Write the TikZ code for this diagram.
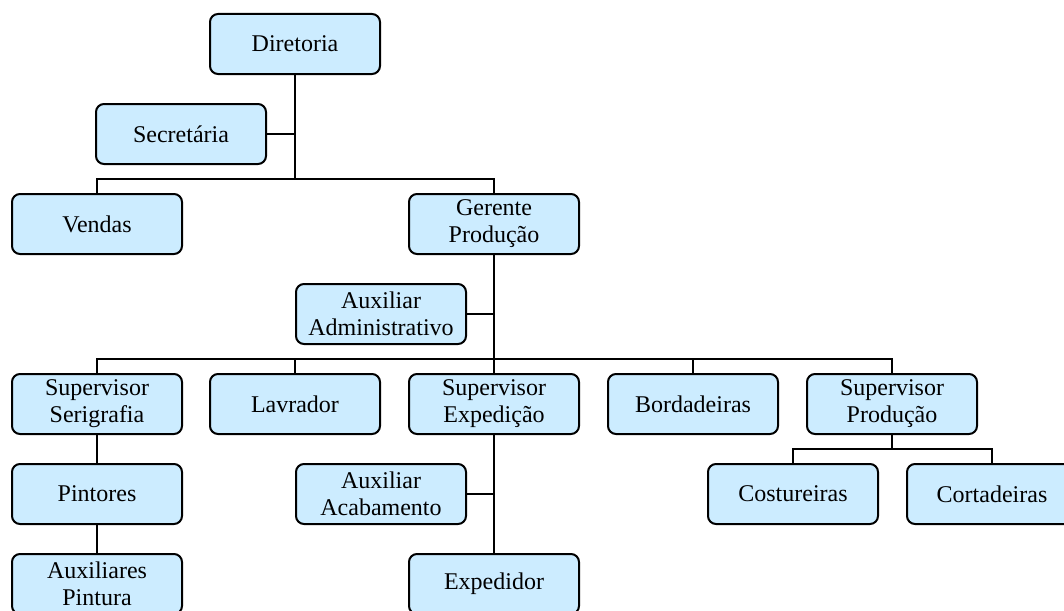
\documentclass[tikz,border=0pt]{standalone}
\usepackage{fontspec}
\setmainfont{Liberation Serif}
\begin{document}
\begin{tikzpicture}[x=1pt,y=-1pt,
  orgbox/.style={draw=black, line width=2pt, fill=boxblue, rounded corners=8pt,
    minimum width=170pt, minimum height=60pt, inner sep=0pt, align=center,
    font=\fontsize{24}{27}\selectfont},
  link/.style={draw=black, line width=2pt}]
\definecolor{boxblue}{HTML}{CCECFF}
\useasboundingbox (0,0) rectangle (1064,610);
\clip (0,0) rectangle (1064,610);

% top level
\node[orgbox] (dir)  at (295,44)  {Diretoria};
\node[orgbox] (sec)  at (181,134) {Secretária};
\node[orgbox] (ven)  at (97,224)  {Vendas};
\node[orgbox] (ger)  at (494,224) {Gerente\\Produção};
\node[orgbox] (aad)  at (381,314) {Auxiliar\\Administrativo};

% production row
\node[orgbox] (sser) at (97,404)  {Supervisor\\Serigrafia};
\node[orgbox] (lav)  at (295,404) {Lavrador};
\node[orgbox] (sexp) at (494,404) {Supervisor\\Expedição};
\node[orgbox] (bor)  at (693,404) {Bordadeiras};
\node[orgbox] (sprd) at (892,404) {Supervisor\\Produção};

% lower levels
\node[orgbox] (pin)  at (97,494)  {Pintores};
\node[orgbox] (apin) at (97,584)  {Auxiliares\\Pintura};
\node[orgbox] (aac)  at (381,494) {Auxiliar\\Acabamento};
\node[orgbox] (exp)  at (494,584) {Expedidor};
\node[orgbox] (cos)  at (793,494) {Costureiras};
\node[orgbox] (cor)  at (992,494) {Cortadeiras};

% junction points of the tree
\coordinate (j1) at (295,179);
\coordinate (j2) at (494,359);
\coordinate (j3) at (892,449);

% connectors
\draw[link] (dir.south) -- (j1);
\draw[link] (sec.east) -- (sec.east -| dir.south);
\draw[link] (ven.north) |- (j1) -| (ger.north);

\draw[link] (ger.south) -- (sexp.north);
\draw[link] (aad.east) -- (aad.east -| ger.south);
\draw[link] (sser.north) |- (j2) -| (sprd.north);
\draw[link] (lav.north) -- (lav.north |- j2);
\draw[link] (bor.north) -- (bor.north |- j2);

\draw[link] (sser.south) -- (pin.north);
\draw[link] (pin.south) -- (apin.north);

\draw[link] (sexp.south) -- (exp.north);
\draw[link] (aac.east) -- (aac.east -| sexp.south);

\draw[link] (sprd.south) -- (j3);
\draw[link] (cos.north) |- (j3) -| (cor.north);
\end{tikzpicture}
\end{document}
